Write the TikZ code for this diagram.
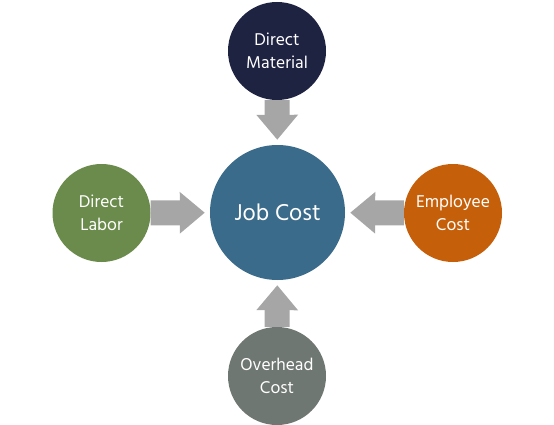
\documentclass[tikz,border=0pt]{standalone}
\usepackage{xcolor}
\usepackage{fontspec}
\usepackage{tikz}
\usetikzlibrary{arrows.meta}
\setmainfont{Hind Madurai}
\definecolor{navyc}{HTML}{1F2342}
\definecolor{bluec}{HTML}{3B6B8A}
\definecolor{greenc}{HTML}{6B8B4C}
\definecolor{orangec}{HTML}{C55F0A}
\definecolor{grayc}{HTML}{6F7772}
\definecolor{arrowc}{HTML}{A6A6A6}
\tikzset{every node/.style={text=white,align=center,font=\fontsize{17.5}{23.5}\selectfont}}
\tikzset{bubble/.style={circle,inner sep=0pt,minimum size=98pt}}
\tikzset{feed/.style={draw=arrowc,line width=25pt,shorten >=5pt,-{Triangle[width=40pt,length=25pt,fill=arrowc]}}}

\begin{document}
\begin{tikzpicture}[line cap=butt,line join=round,x=1pt,y=-1pt]
            \useasboundingbox (0,0) rectangle (554,425);
            % outer costs
            \node[bubble,fill=navyc] (mat) at (277,51) {Direct\\Material};
            \node[bubble,fill=greenc] (lab) at (101.5,213) {Direct\\Labor};
            \node[bubble,fill=orangec] (emp) at (453,213) {Employee\\Cost};
            \node[bubble,fill=grayc] (ovh) at (277,376) {Overhead\\Cost};
            % job cost in the middle
            \node[circle,inner sep=0pt,minimum size=135pt,fill=bluec,font=\fontsize{23.5}{28}\selectfont] (job) at (277.5,212.5) {Job Cost};
            \draw [feed] (mat) -- (job);
            \draw [feed] (lab) -- (job);
            \draw [feed] (emp) -- (job);
            \draw [feed] (ovh) -- (job);
            \end{tikzpicture}
\end{document}
